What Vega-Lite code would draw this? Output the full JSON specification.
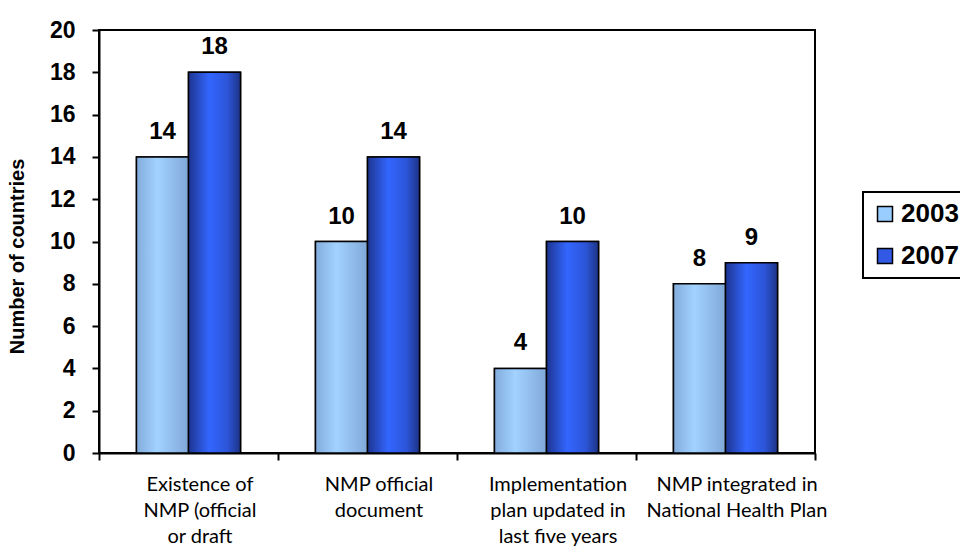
{
  "$schema": "https://vega.github.io/schema/vega-lite/v6.json",
  "autosize": {"type": "none"},
  "width": 716,
  "height": 423,
  "padding": {"left": 99, "top": 30, "right": 145, "bottom": 95},
  "background": "white",
  "config": {
    "view": {"stroke": "black", "strokeWidth": 2},
    "font": "Liberation Sans"
  },
  "data": {
    "values": [
      {"measure": "Existence of|NMP (official|or draft", "year": "2003", "countries": 14},
      {"measure": "Existence of|NMP (official|or draft", "year": "2007", "countries": 18},
      {"measure": "NMP official|document", "year": "2003", "countries": 10},
      {"measure": "NMP official|document", "year": "2007", "countries": 14},
      {"measure": "Implementation|plan updated in|last five years", "year": "2003", "countries": 4},
      {"measure": "Implementation|plan updated in|last five years", "year": "2007", "countries": 10},
      {"measure": "NMP integrated in|National Health Plan", "year": "2003", "countries": 8},
      {"measure": "NMP integrated in|National Health Plan", "year": "2007", "countries": 9}
    ]
  },
  "encoding": {
    "x": {
      "field": "measure",
      "type": "nominal",
      "sort": null,
      "scale": {"paddingInner": 0, "paddingOuter": 0},
      "axis": {
        "title": null,
        "labelAngle": 0,
        "labelExpr": "split(datum.label, '|')",
        "labelFont": "Lato",
        "labelFontSize": 20,
        "labelLineHeight": 26,
        "labelColor": "black",
        "labelPadding": 14,
        "labelOffset": 11,
        "labelLimit": 0,
        "tickBand": "extent",
        "tickSize": 7,
        "tickWidth": 2,
        "tickColor": "black",
        "domainColor": "black",
        "domainWidth": 2
      }
    },
    "xOffset": {
      "field": "year",
      "type": "nominal",
      "scale": {"domain": ["2003", "2007"], "paddingInner": 0, "paddingOuter": 0.72}
    },
    "y": {
      "field": "countries",
      "type": "quantitative",
      "scale": {"domain": [0, 20]},
      "axis": {
        "title": "Number of countries",
        "titleFontSize": 20,
        "titleFontWeight": "bold",
        "titleColor": "black",
        "titlePadding": 22,
        "titleY": 226,
        "values": [0, 2, 4, 6, 8, 10, 12, 14, 16, 18, 20],
        "grid": false,
        "labelFontSize": 23,
        "labelFontWeight": "bold",
        "labelColor": "black",
        "labelPadding": 17,
        "tickSize": 7,
        "tickWidth": 2,
        "tickColor": "black",
        "domainColor": "black",
        "domainWidth": 2
      }
    }
  },
  "layer": [
    {
      "mark": {"type": "bar", "stroke": "black", "strokeWidth": 1.5},
      "encoding": {
        "color": {
          "field": "year",
          "type": "nominal",
          "scale": {"domain": ["2003", "2007"], "range": ["#99ccff", "#3159e6"]},
          "legend": {
            "title": null,
            "orient": "none",
            "legendX": 764,
            "legendY": 162,
            "symbolType": "square",
            "symbolSize": 225,
            "symbolStrokeColor": "black",
            "symbolStrokeWidth": 1.5,
            "symbolOpacity": 1,
            "labelFontSize": 26,
            "labelFontWeight": "bold",
            "labelColor": "black",
            "labelOffset": 3,
            "rowPadding": 16,
            "padding": 9,
            "strokeColor": "black",
            "encode": {
              "legend": {"update": {"strokeWidth": {"value": 2}}}
            }
          }
        }
      }
    },
    {
      "transform": [{"filter": "datum.year === '2003'"}],
      "mark": {
        "type": "bar",
        "stroke": "black",
        "strokeWidth": 1.5,
        "fill": {
          "gradient": "linear",
          "x1": 0, "y1": 0, "x2": 1, "y2": 0,
          "stops": [
            {"offset": 0, "color": "#82acdc"},
            {"offset": 0.4, "color": "#a2d2ff"},
            {"offset": 1, "color": "#80a8d8"}
          ]
        }
      }
    },
    {
      "transform": [{"filter": "datum.year === '2007'"}],
      "mark": {
        "type": "bar",
        "stroke": "black",
        "strokeWidth": 1.5,
        "fill": {
          "gradient": "linear",
          "x1": 0, "y1": 0, "x2": 1, "y2": 0,
          "stops": [
            {"offset": 0, "color": "#1e3590"},
            {"offset": 0.4, "color": "#3366ff"},
            {"offset": 0.75, "color": "#2c55d8"},
            {"offset": 1, "color": "#1d3385"}
          ]
        }
      }
    },
    {
      "mark": {"type": "text", "baseline": "alphabetic", "dy": -18, "fontSize": 24, "fontWeight": "bold", "color": "black"},
      "encoding": {
        "text": {"field": "countries", "type": "quantitative"}
      }
    }
  ]
}
